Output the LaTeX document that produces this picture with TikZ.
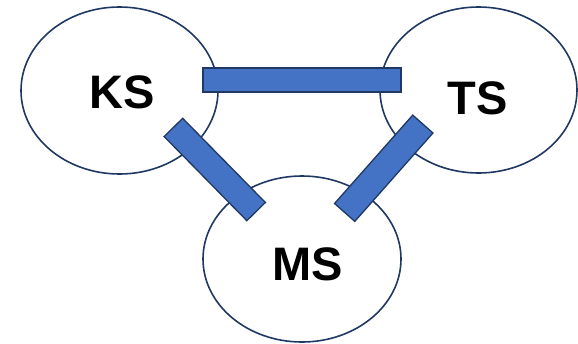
\documentclass[tikz,border=0pt]{standalone}
\usepackage{fontspec}
\setmainfont{Liberation Sans}
\usetikzlibrary{shapes.geometric}
\definecolor{navy}{HTML}{203864}
\definecolor{barblue}{HTML}{4472C4}
\begin{document}
\begin{tikzpicture}[x=1pt,y=-1pt,
  sys/.style={ellipse, draw=navy, line width=1.6pt, fill=white, inner sep=0pt},
  lbl/.style={font=\fontsize{47}{50}\selectfont\bfseries, inner sep=0pt},
  bar/.style={rectangle, draw=navy, line width=1.3pt, fill=barblue, inner sep=0pt}]
  \useasboundingbox (0,0) rectangle (578,343);
  % the three systems
  \node[sys, minimum width=197, minimum height=167] (ks) at (119.5,90.5) {};
  \node[sys, minimum width=197, minimum height=166] (ts) at (478.5,90) {};
  \node[sys, minimum width=198, minimum height=166] (ms) at (302,259) {};
  \node[lbl] (ksl) at (122,92) {KS};
  \node[lbl] (tsl) at (478,98) {TS};
  \node[lbl] (msl) at (307.5,264) {MS};
  % links between the systems
  \node[bar, minimum width=198, minimum height=24] (kt) at (302,80) {};
  \node[bar, minimum width=118, minimum height=26, rotate=-45.5] (km) at (214.75,169.5) {};
  \node[bar, minimum width=118, minimum height=27, rotate=48.5] (tm) at (383.75,168.25) {};
\end{tikzpicture}
\end{document}
